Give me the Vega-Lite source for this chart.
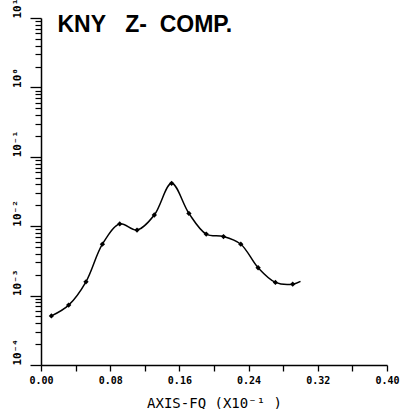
{
  "$schema": "https://vega.github.io/schema/vega-lite/v6.json",
  "width": 346,
  "height": 347,
  "autosize": "none",
  "padding": {"left": 41, "top": 18, "right": 18, "bottom": 44},
  "background": "white",
  "data": {
    "values": [
      {"f": 0.012, "v": 0.00051},
      {"f": 0.032, "v": 0.00073},
      {"f": 0.052, "v": 0.00158},
      {"f": 0.071, "v": 0.0055},
      {"f": 0.091, "v": 0.0108},
      {"f": 0.111, "v": 0.0088},
      {"f": 0.131, "v": 0.0145},
      {"f": 0.151, "v": 0.0415},
      {"f": 0.171, "v": 0.0153},
      {"f": 0.191, "v": 0.0077},
      {"f": 0.211, "v": 0.0071},
      {"f": 0.231, "v": 0.0055},
      {"f": 0.251, "v": 0.00252},
      {"f": 0.271, "v": 0.00155},
      {"f": 0.291, "v": 0.00146},
      {"f": 0.300, "v": 0.0016}
    ]
  },
  "encoding": {
    "x": {
      "field": "f",
      "type": "quantitative",
      "scale": {"domain": [0, 0.4], "nice": false, "zero": false},
      "axis": {
        "values": [0, 0.04, 0.08, 0.12, 0.16, 0.2, 0.24, 0.28, 0.32, 0.36, 0.4],
        "labelExpr": "round(datum.value * 100) % 8 == 0 ? format(datum.value, '.2f') : ''",
        "title": "AXIS-FQ (X10⁻¹ )",
        "titleFont": "DejaVu Sans Mono",
        "titleFontSize": 14,
        "titleFontWeight": "normal",
        "titleColor": "black",
        "titlePadding": 11,
        "labelFont": "DejaVu Sans Mono",
        "labelFontSize": 10,
        "labelFontWeight": "bold",
        "labelColor": "black",
        "labelPadding": 4,
        "labelFlush": false,
        "labelOverlap": false,
        "tickSize": 6,
        "tickColor": "black",
        "tickWidth": 1.3,
        "domainColor": "black",
        "domainWidth": 1.5,
        "grid": false
      }
    }
  },
  "layer": [
    {
      "mark": {"type": "line", "interpolate": "catmull-rom", "color": "black", "strokeWidth": 1.5},
      "encoding": {
        "y": {
          "field": "v",
          "type": "quantitative",
          "scale": {"type": "log", "domain": [0.0001, 10], "nice": false},
          "axis": {
            "orient": "left",
            "values": [0.0001, 0.001, 0.01, 0.1, 1, 10],
            "labelExpr": "'10' + ['⁻⁴', '⁻³', '⁻²', '⁻¹', '⁰', '¹'][round(log(datum.value) / LN10) + 4]",
            "labelAngle": 270,
            "labelAlign": "left",
            "labelBaseline": "middle",
            "labelPadding": 13,
            "labelFont": "DejaVu Sans Mono",
            "labelFontSize": 11,
            "labelFontWeight": "bold",
            "labelColor": "black",
            "labelFlush": false,
            "labelOverlap": false,
            "tickSize": 11,
            "tickColor": "black",
            "tickWidth": 1.3,
            "domainColor": "black",
            "domainWidth": 1.5,
            "grid": false,
            "title": null
          }
        }
      }
    },
    {
      "transform": [{"filter": "datum.f < 0.295"}],
      "mark": {"type": "point", "shape": "diamond", "filled": true, "color": "black", "size": 28, "opacity": 1},
      "encoding": {
        "y": {
          "field": "v",
          "type": "quantitative",
          "axis": {
            "orient": "left",
            "values": [0.0002, 0.0003, 0.0004, 0.0005, 0.0006, 0.0007, 0.0008, 0.0009,
                       0.002, 0.003, 0.004, 0.005, 0.006, 0.007, 0.008, 0.009,
                       0.02, 0.03, 0.04, 0.05, 0.06, 0.07, 0.08, 0.09,
                       0.2, 0.3, 0.4, 0.5, 0.6, 0.7, 0.8, 0.9,
                       2, 3, 4, 5, 6, 7, 8, 9],
            "labels": false,
            "domain": false,
            "tickSize": 6,
            "tickColor": "black",
            "tickWidth": 1.2,
            "grid": false,
            "title": null
          }
        }
      }
    },
    {
      "data": {"values": [{"label": "KNY\u00a0\u00a0\u00a0Z-\u00a0\u00a0COMP.", "f": 0.019, "v": 6.3}]},
      "mark": {
        "type": "text",
        "align": "left",
        "baseline": "alphabetic",
        "font": "Liberation Sans",
        "fontSize": 23,
        "fontWeight": "bold",
        "color": "black"
      },
      "encoding": {
        "y": {"field": "v", "type": "quantitative", "axis": null},
        "text": {"field": "label"}
      }
    }
  ],
  "resolve": {"axis": {"y": "independent"}},
  "config": {"view": {"stroke": null}}
}
